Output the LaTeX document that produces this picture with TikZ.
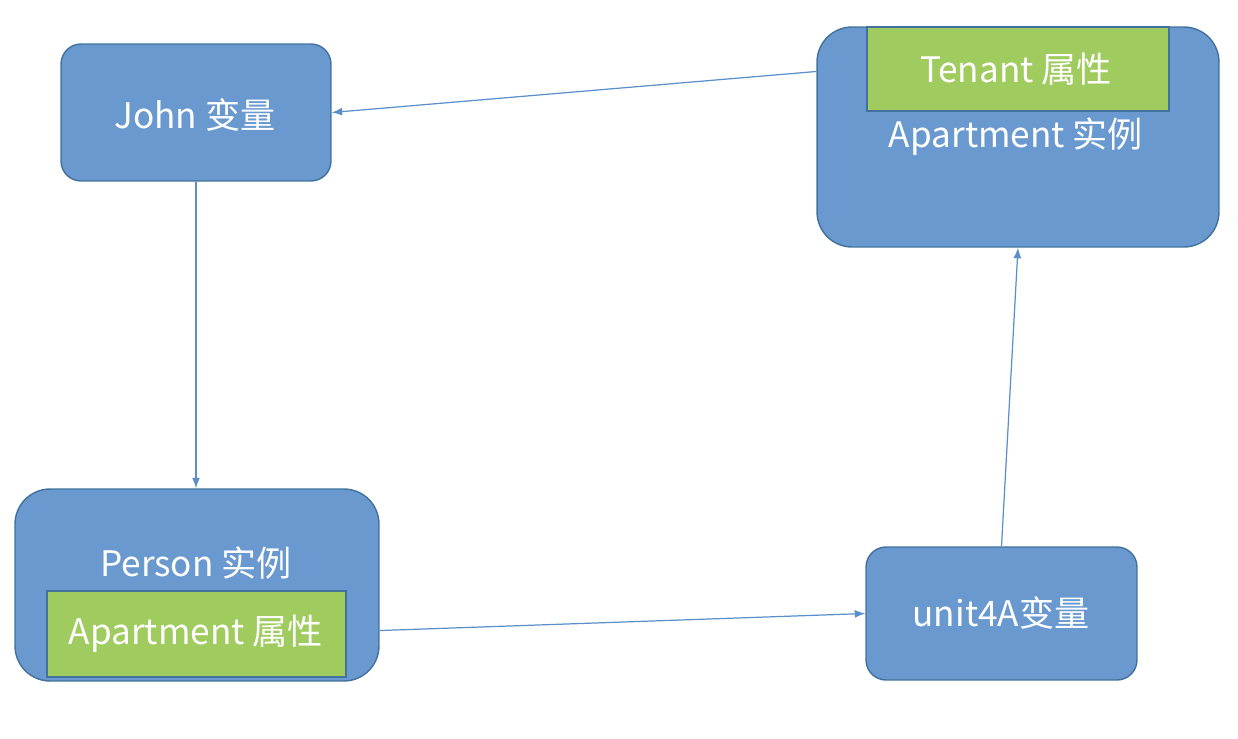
\documentclass[tikz,border=0pt]{standalone}
\usepackage{fontspec}
\setmainfont{Noto Sans CJK SC}
\usetikzlibrary{arrows.meta}
\definecolor{boxblue}{HTML}{6999CF}
\definecolor{boxedge}{HTML}{41719C}
\definecolor{attrgreen}{HTML}{A0CB5F}
\definecolor{linkblue}{HTML}{5B8FCB}

\begin{document}
\begin{tikzpicture}[x=0.02cm,y=-0.02cm,
    box/.style={draw=boxedge,fill=boxblue,line width=0.8pt,rectangle},
    attr/.style={draw=boxedge,fill=attrgreen,line width=0.8pt,rectangle},
    txt/.style={text=white,font=\fontsize{20}{24}\selectfont},
    link/.style={draw=linkblue,line width=0.7pt,-{Latex[length=6pt,width=4.5pt]}}]
\useasboundingbox (0,0) rectangle (1238,738);
% variables and instances
\node[box,rounded corners=0.4cm,minimum width=5.4cm,minimum height=2.74cm] (john) at (196,112.5) {};
\node[box,rounded corners=0.7cm,minimum width=8.04cm,minimum height=4.4cm] (apt) at (1018,137) {};
\node[box,rounded corners=0.7cm,minimum width=7.28cm,minimum height=3.84cm] (person) at (197,585) {};
\node[box,rounded corners=0.4cm,minimum width=5.42cm,minimum height=2.66cm] (unit) at (1001.5,613.5) {};
% attributes
\node[attr,minimum width=6.04cm,minimum height=1.68cm] (tenant) at (1018,69) {};
\node[attr,minimum width=5.98cm,minimum height=1.72cm] (aptattr) at (196.5,634) {};
% texts
\node[txt] (johntxt) at (195,115) {John 变量};
\node[txt] (tenanttxt) at (1016,69) {Tenant 属性};
\node[txt] (apttxt) at (1016,137) {Apartment 实例};
\node[txt] (persontxt) at (196,563) {Person 实例};
\node[txt] (aptattrtxt) at (196,634) {Apartment 属性};
\node[txt] (unittxt) at (1001,613) {unit4A变量};
% references
\draw[link] (apt.162) -- (john.east);
\draw[link] (john.south) -- (john.south |- person.north);
\draw[link] (person.-14) -- (unit.west);
\draw[link] (unit.north) -- (apt.south);
\end{tikzpicture}
\end{document}
